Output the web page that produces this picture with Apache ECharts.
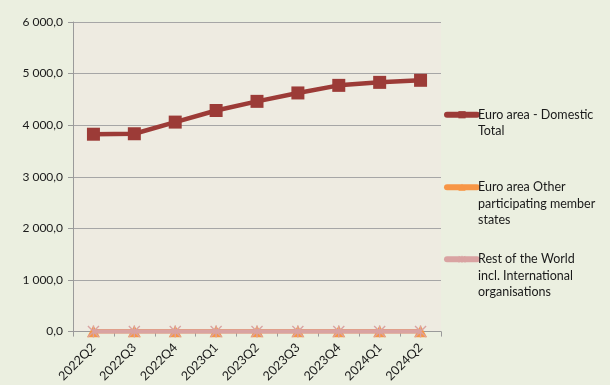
<!DOCTYPE html>
<html><head><meta charset="utf-8">
<script src="https://cdn.jsdelivr.net/npm/echarts@6/dist/echarts.min.js"></script>
<style>html,body{margin:0;padding:0;background:#EBEFE0}#c{width:610px;height:385px}</style>
</head><body><div id="c"></div>
<script>
const categories = ['2022Q2','2022Q3','2022Q4','2023Q1','2023Q2','2023Q3','2023Q4','2024Q1','2024Q2'];
const domesticTotal = [3825, 3834, 4060, 4285, 4462, 4625, 4772, 4830, 4870];
const otherMemberStates = [5, 5, 5, 5, 5, 5, 5, 5, 5];
const restOfWorld = [3, 3, 3, 3, 3, 3, 3, 3, 3];
const seriesNames = ['Euro area - Domestic\nTotal', 'Euro area Other\nparticipating member\nstates', 'Rest of the World\nincl. International\norganisations'];
const yTicks = [0, 1000, 2000, 3000, 4000, 5000, 6000];

const FONT = 'Lato';
const star = 'path://M4.4,0h1.2v10h-1.2z M0,0.8L0.8,0L10,9.2L9.2,10z M9.2,0L10,0.8L0.8,10L0,9.2z';
function fmt(v){
  const s = v.toFixed(1).split('.');
  return s[0].replace(/\B(?=(\d{3})+(?!\d))/g, ' ') + ',' + s[1];
}
function pad(name, before){ return '\n'.repeat(before) + name; }
const colors = ['#9C3B37', '#F79646', '#D9A3A2'];
const chart = echarts.init(document.getElementById('c'));
chart.setOption({
  backgroundColor: '#EBEFE0',
  animation: false,
  textStyle: { fontFamily: FONT },
  grid: { left: 73, right: 169, top: 22, bottom: 53, show: true, backgroundColor: '#EEEBE1', borderWidth: 0 },
  legend: [0,1,2].map((i) => ({
    data: [seriesNames[i]],
    left: 444, top: [90, 146, 218][i], padding: 0,
    itemWidth: 30, itemHeight: 9, itemGap: 0,
    lineStyle: { width: 6, cap: 'round', color: colors[i] },
    textStyle: { fontFamily: FONT, fontSize: 12.5, color: '#1a1a1a', lineHeight: 16.5, padding: [0,0,0,-4] },
    formatter: (n) => pad(n, n.split('\n').length - 1),
    selectedMode: false
  })),
  xAxis: {
    type: 'category', data: categories, boundaryGap: true,
    axisLine: { lineStyle: { color: '#9a9a9a', width: 1 } },
    axisTick: { show: true, length: 5, lineStyle: { color: '#9a9a9a' } },
    axisLabel: { rotate: 45, fontSize: 12.5, color: '#1a1a1a', fontFamily: FONT, margin: 14 }
  },
  yAxis: {
    type: 'value', min: 0, max: 6000, interval: 1000,
    axisLine: { show: true, lineStyle: { color: '#9a9a9a' } },
    axisTick: { show: true, length: 5, lineStyle: { color: '#9a9a9a' } },
    splitLine: { lineStyle: { color: '#a6a6a6', width: 1 } },
    axisLabel: { fontSize: 12, color: '#1a1a1a', fontFamily: FONT, margin: 10, formatter: (v) => fmt(v) }
  },
  series: [
    { name: seriesNames[0], type: 'line', data: domesticTotal, symbol: 'rect', symbolSize: 13,
      lineStyle: { color: colors[0], width: 4.5 }, itemStyle: { color: colors[0] }, z: 5 },
    { name: seriesNames[1], type: 'line', data: otherMemberStates, symbol: 'triangle', symbolSize: [13, 12],
      lineStyle: { color: colors[1], width: 4.5 }, itemStyle: { color: colors[1] }, z: 3 },
    { name: seriesNames[2], type: 'line', data: restOfWorld, symbol: star, symbolSize: 12,
      lineStyle: { color: colors[2], width: 4.5 }, itemStyle: { color: colors[2] }, z: 4 }
  ]
});
</script></body></html>
